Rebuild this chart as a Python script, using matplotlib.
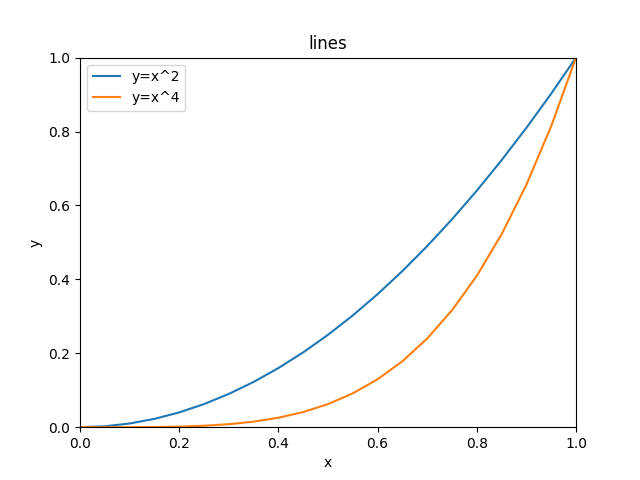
import matplotlib
matplotlib.use("Agg")
import matplotlib.pyplot as plt

x = [0.0, 0.05, 0.1, 0.15, 0.2, 0.25, 0.3, 0.35, 0.4, 0.45, 0.5,
     0.55, 0.6, 0.65, 0.7, 0.75, 0.8, 0.85, 0.9, 0.95, 1.0]
y_sq = [0.0, 0.0025, 0.01, 0.0225, 0.04, 0.0625, 0.09, 0.1225, 0.16, 0.2025, 0.25,
        0.3025, 0.36, 0.4225, 0.49, 0.5625, 0.64, 0.7225, 0.81, 0.9025, 1.0]
y_quad = [0.0, 0.00001, 0.0001, 0.0005, 0.0016, 0.0039, 0.0081, 0.015, 0.0256, 0.041, 0.0625,
          0.0915, 0.1296, 0.1785, 0.2401, 0.3164, 0.4096, 0.522, 0.6561, 0.8145, 1.0]

fig, ax = plt.subplots(figsize=(6.4, 4.8), dpi=100)
ax.plot(x, y_sq, label="y=x^2")
ax.plot(x, y_quad, label="y=x^4")
ax.set_xlim(0, 1); ax.set_ylim(0, 1)
ax.set_xlabel("x"); ax.set_ylabel("y")
ax.set_title("lines")
ax.legend(loc="upper left")
fig.savefig("out.png", dpi=100)
